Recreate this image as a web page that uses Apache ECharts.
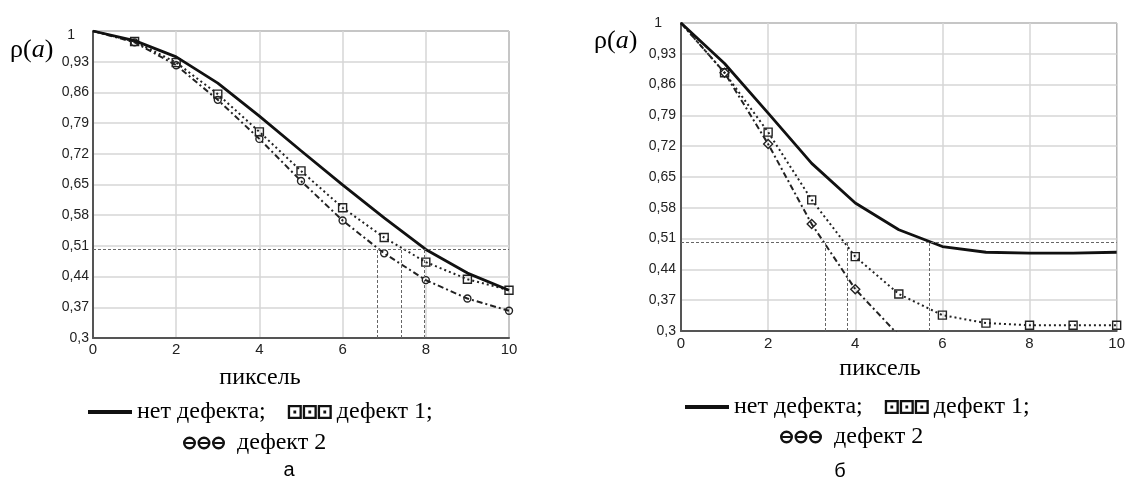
<!DOCTYPE html>
<html>
<head>
<meta charset="utf-8">
<script src="https://cdn.jsdelivr.net/npm/echarts@6.0.0/dist/echarts.min.js"></script>
<style>
html,body{margin:0;padding:0;background:#fff;}
#chart{width:1128px;height:484px;}
</style>
</head>
<body>
<div id="chart"></div>
<script>
// ---------- data ----------
const xVals = [0, 1, 2, 3, 4, 5, 6, 7, 8, 9, 10];
const yTicks = [0.3, 0.37, 0.44, 0.51, 0.58, 0.65, 0.72, 0.79, 0.86, 0.93, 1];
const xTicksInterval = 2;

const seriesNames = ['нет дефекта', 'дефект 1', 'дефект 2'];

// panel "а"
const noDefectA = [1, 0.978, 0.941, 0.881, 0.806, 0.727, 0.649, 0.574, 0.502, 0.448, 0.409];
const defect1A  = [1, 0.976, 0.928, 0.856, 0.770, 0.681, 0.597, 0.529, 0.473, 0.434, 0.409];
const defect2A  = [1, 0.974, 0.922, 0.843, 0.754, 0.658, 0.568, 0.493, 0.432, 0.390, 0.362];
const refLevelA = 0.502;
const refXA = [6.83, 7.42, 7.96];

// panel "б"
const noDefectB = [1, 0.908, 0.795, 0.681, 0.591, 0.530, 0.492, 0.479, 0.477, 0.477, 0.479];
const defect1B  = [1, 0.887, 0.752, 0.598, 0.469, 0.384, 0.336, 0.318, 0.313, 0.313, 0.313];
const defect2B  = [1, 0.887, 0.725, 0.543, 0.395, 0.290];
const refLevelB = 0.501;
const refXB = [3.31, 3.81, 5.69];

const yLabel = 'ρ(a)';
const xLabel = 'пиксель';
const captions = ['а', 'б'];

// ---------- helpers ----------
const SERIF = 'Liberation Serif';
const SANS = 'Liberation Sans';
const pairs = arr => arr.map((v, i) => [xVals[i], v]);
const fmtComma = v => String(Math.round(v * 100) / 100).replace('.', ',');

function squaresIcon() {
  let p = 'path://';
  for (let i = 0; i < 3; i++) {
    const x = i * 16;
    p += `M${x} 0 h15 v15 h-15 Z M${x + 2.5} 2.5 v10 h10 v-10 Z M${x + 6} 6 h3 v3 h-3 Z `;
  }
  return p;
}
function circlesIcon() {
  let p = 'path://';
  for (let i = 0; i < 3; i++) {
    const cx = 6.5 + i * 14.5, cy = 6.5;
    p += `M${cx - 6.5} ${cy} a6.5 6.5 0 1 0 13 0 a6.5 6.5 0 1 0 -13 0 Z ` +
         `M${cx - 4} ${cy} a4 4 0 1 1 8 0 a4 4 0 1 1 -8 0 Z ` +
         `M${cx - 4} ${cy - 1} h8 v2 h-8 Z `;
  }
  return p;
}
const lineIcon = 'path://M0 0 H42 V3.8 H0 Z';

function yAxisFor(gridIndex, onePad, margin) {
  return {
    type: 'value', gridIndex, min: 0.3, max: 1,
    axisLine: { show: true, lineStyle: { color: '#555', width: 2 } },
    axisTick: { show: false, customValues: yTicks },
    splitLine: { show: true, lineStyle: { color: '#d6d6d6', width: 1.5 } },
    axisLabel: {
      customValues: yTicks, margin,
      fontFamily: SANS, fontSize: 14, color: '#222',
      formatter: v => Math.abs(v - 1) < 1e-9 ? '{one|1}' : fmtComma(v),
      rich: { one: { fontFamily: SANS, fontSize: 14, color: '#222', padding: onePad } }
    }
  };
}
function xAxisFor(gridIndex, margin) {
  return {
    type: 'value', gridIndex, min: 0, max: 10, interval: xTicksInterval,
    axisLine: { show: true, lineStyle: { color: '#555', width: 2 } },
    axisTick: { show: false },
    splitLine: { show: true, lineStyle: { color: '#d6d6d6', width: 1.5 } },
    axisLabel: { margin, fontFamily: SANS, fontSize: 15, color: '#222' }
  };
}
function refLines(level, xs) {
  const d = [[{ coord: [0, level] }, { coord: [10, level] }]];
  xs.forEach(x => d.push([{ coord: [x, 0.3] }, { coord: [x, level] }]));
  return {
    silent: true, symbol: ['none', 'none'], label: { show: false },
    lineStyle: { color: '#666', width: 1, type: [3, 2] },
    emphasis: { disabled: true },
    animation: false,
    data: d
  };
}
const symSize = s => (val, p) => (p.dataIndex === 0 ? 0 : s);

function panelSeries(idx, noDef, d1, d2, level, xs, d2symbol) {
  return [
    {
      name: seriesNames[0], type: 'line', xAxisIndex: idx, yAxisIndex: idx,
      data: pairs(noDef), symbol: 'none', z: 4,
      lineStyle: { color: '#111', width: 2.8 },
      itemStyle: { color: '#111' },
      markLine: refLines(level, xs)
    },
    {
      name: seriesNames[1], type: 'line', xAxisIndex: idx, yAxisIndex: idx,
      data: pairs(d1), symbol: 'rect', symbolSize: symSize(8), showAllSymbol: true, z: 3,
      lineStyle: { color: '#222', width: 2, type: [2, 3] },
      itemStyle: { color: 'rgba(255,255,255,0)', borderColor: '#222', borderWidth: 1.4 }
    },
    {
      name: seriesNames[2], type: 'line', xAxisIndex: idx, yAxisIndex: idx,
      data: pairs(d2), symbol: d2symbol, symbolSize: symSize(d2symbol === 'diamond' ? 9 : 7), showAllSymbol: true, z: 3,
      lineStyle: { color: '#222', width: 2, type: [6, 3, 2, 3] },
      itemStyle: { color: 'rgba(255,255,255,0)', borderColor: '#222', borderWidth: 1.4 }
    }
  ];
}

function legendsFor(l1Left, l1Top, l2Left, l2Top) {
  const common = {
    orient: 'horizontal', padding: 0, selectedMode: false,
    textStyle: { fontFamily: SERIF, fontSize: 24, color: '#000' },
    itemStyle: { color: '#111', borderWidth: 0 }
  };
  return [
    Object.assign({}, common, {
      left: l1Left, top: l1Top, itemGap: 22, itemWidth: 44, itemHeight: 15,
      formatter: n => n + ';',
      data: [{ name: seriesNames[0], icon: lineIcon }, { name: seriesNames[1], icon: squaresIcon() }]
    }),
    Object.assign({}, common, {
      left: l2Left, top: l2Top, itemWidth: 56, itemHeight: 13,
      data: [{ name: seriesNames[2], icon: circlesIcon() }]
    })
  ];
}

function textEl(text, x, y, font, size) {
  return {
    type: 'text', x, y, silent: true,
    style: { text, fontFamily: font, fontSize: size, fill: '#000', align: 'center', verticalAlign: 'middle' }
  };
}
function rhoEl(x, y) {
  return {
    type: 'text', x, y, silent: true,
    style: {
      text: '{r|ρ(}{i|' + yLabel.slice(2, 3) + '}{r|)}',
      align: 'left', verticalAlign: 'middle',
      rich: {
        r: { fontFamily: SERIF, fontSize: 26, fill: '#000' },
        i: { fontFamily: SERIF, fontSize: 26, fontStyle: 'italic', fill: '#000' }
      }
    }
  };
}

const option = {
  backgroundColor: '#fff',
  animation: false,
  grid: [
    { left: 93, top: 31, width: 416, height: 307, show: true, borderColor: '#333', borderWidth: 1, backgroundColor: 'transparent' },
    { left: 681, top: 23, width: 436, height: 308, show: true, borderColor: '#333', borderWidth: 1, backgroundColor: 'transparent' }
  ],
  xAxis: [xAxisFor(0, 4), xAxisFor(1, 5)],
  yAxis: [yAxisFor(0, [9, 14, 0, 0], 4), yAxisFor(1, [0, 14, 0, 0], 5)],
  legend: legendsFor(88, 400, 183, 431).concat(legendsFor(685, 395, 780, 425)),
  series: [].concat(
    panelSeries(0, noDefectA, defect1A, defect2A, refLevelA, refXA, 'circle'),
    panelSeries(1, noDefectB, defect1B, defect2B, refLevelB, refXB, 'diamond')
  ),
  graphic: [
    rhoEl(10, 50),
    rhoEl(594, 41),
    textEl(xLabel, 260, 378, SERIF, 24),
    textEl(xLabel, 880, 369, SERIF, 24),
    textEl(captions[0], 289, 470, SANS, 20),
    textEl(captions[1], 840, 471, SANS, 20)
  ]
};

const chart = echarts.init(document.getElementById('chart'), null, { renderer: 'canvas' });
chart.setOption(option);
</script>
</body>
</html>
